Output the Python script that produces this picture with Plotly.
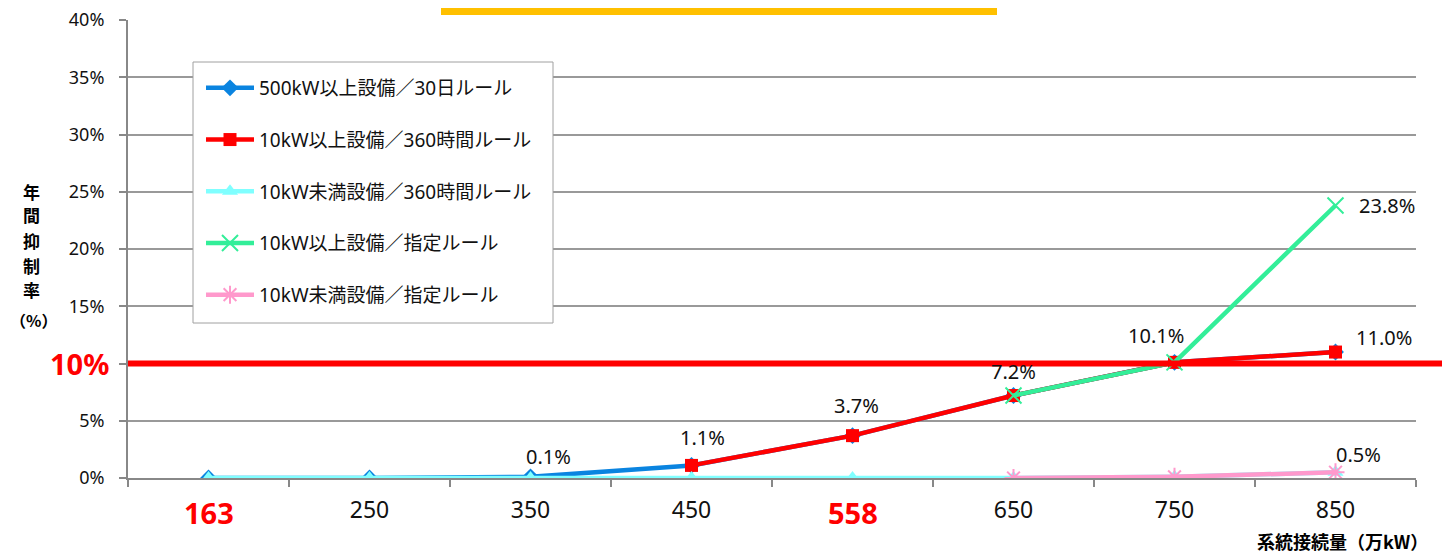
import plotly.graph_objects as go

categories = ["163", "250", "350", "450", "558", "650", "750", "850"]
s_500kw_30d = [0, 0, 0.1, 1.1, 3.7, 7.2, 10.1, 11.0]
s_10kw_360h = [None, None, None, 1.1, 3.7, 7.2, 10.1, 11.0]
s_u10kw_360h = [0, 0, 0, 0, 0, 0, 0.1, 0.5]
s_10kw_shitei = [None, None, None, None, None, 7.2, 10.1, 23.8]
s_u10kw_shitei = [None, None, None, None, None, 0, 0.1, 0.5]
names = ["500kW以上設備／30日ルール", "10kW以上設備／360時間ルール", "10kW未満設備／360時間ルール",
         "10kW以上設備／指定ルール", "10kW未満設備／指定ルール"]
colors = ["#0A84E0", "#FF0000", "#80FFFF", "#33EE99", "#FF99CC"]
symbols = ["diamond", "square", "triangle-up", "x-thin", "asterisk"]
highlight_cats = ["163", "558"]
target_rate = 10
y_ticks = [0, 5, 10, 15, 20, 25, 30, 35, 40]
y_title_parts = ["年", "間", "抑", "制", "率", "（%）"]

# data labels: (category, value, text, dx, dy_up)
labels = [("350", 0.1, "0.1%", 18, 20), ("450", 1.1, "1.1%", 11, 28), ("558", 3.7, "3.7%", 4, 30),
          ("650", 7.2, "7.2%", 0, 24), ("750", 10.1, "10.1%", -19, 27), ("850", 11.0, "11.0%", 48, 15),
          ("850", 23.8, "23.8%", 51, 0), ("850", 0.5, "0.5%", 23, 18)]

FONT = "Noto Sans, Noto Sans CJK JP, sans-serif"
CJK = "Noto Sans CJK JP, sans-serif"
x = list(range(len(categories)))
series = [s_500kw_30d, s_10kw_360h, s_u10kw_360h, s_10kw_shitei, s_u10kw_shitei]
msizes = [13, 13, 14, 16, 15]

# plot-area geometry in page pixels (used for paper-coordinate placement)
PX0, PX1, PY0, PY1 = 128, 1416, 20, 478
def px(xp):
    return (xp - PX0) / (PX1 - PX0)
def py(yp):
    return (PY1 - yp) / (PY1 - PY0)

fig = go.Figure()
for i, (s, n, c, sym) in enumerate(zip(series, names, colors, symbols)):
    thin = sym in ("x-thin", "asterisk")
    fig.add_trace(go.Scatter(
        x=x, y=s, name=n, mode="lines+markers", legendgroup=str(i),
        line=dict(color=c, width=4.5),
        marker=dict(symbol=sym, size=msizes[i], color=c, line=dict(color=c, width=2 if thin else 0)),
        connectgaps=False,
    ))

for cat, v, t, dx, dy in labels:
    fig.add_annotation(x=categories.index(cat), y=v, text=t, showarrow=False,
                       xshift=dx, yshift=dy, font=dict(size=20, color="#111111", family=FONT))

# 10% threshold line
fig.add_shape(type="line", xref="paper", yref="y", x0=0, x1=px(1443), y0=target_rate, y1=target_rate,
              line=dict(color="#FF0000", width=6), layer="above")
fig.add_annotation(xref="paper", yref="y", x=0, y=target_rate, xanchor="right", yanchor="middle",
                   text="<b>10%</b>", showarrow=False, xshift=-17,
                   font=dict(size=29, color="#FF0000", family=FONT))

# highlighted x labels
for cat in highlight_cats:
    fig.add_annotation(x=categories.index(cat), yref="paper", y=py(512), xanchor="center", yanchor="middle",
                       text="<b>" + cat + "</b>", showarrow=False,
                       font=dict(size=29, color="#FF0000", family=FONT))

# y-axis title (stacked vertical characters)
title_y = [191, 214, 240, 265, 290, 320]
title_x = [31, 31, 31, 31, 31, 33]
title_size = [17, 17, 17, 17, 17, 16]
for part, xp, yp, fs in zip(y_title_parts, title_x, title_y, title_size):
    fig.add_annotation(xref="paper", yref="paper", x=px(xp), y=py(yp), xanchor="center", yanchor="middle",
                       text="<b>" + part + "</b>", showarrow=False, borderpad=0,
                       font=dict(size=fs, color="#000000", family=CJK))
# x-axis title
fig.add_annotation(xref="paper", yref="paper", x=px(1430), y=py(541), xanchor="right", yanchor="middle",
                   text="<b>系統接続量（万kW）</b>", showarrow=False,
                   font=dict(size=18, color="#000000", family=CJK))

# right border, yellow bar, legend box
fig.add_shape(type="line", xref="paper", yref="paper", x0=px(1443), x1=px(1443), y0=-0.2, y1=1.03,
              line=dict(color="#888888", width=2))
fig.add_shape(type="rect", xref="paper", yref="paper", x0=px(441), x1=px(997), y0=py(15), y1=py(7),
              fillcolor="#FFC000", line=dict(width=0))
fig.add_shape(type="rect", xref="paper", yref="paper", x0=px(193), x1=px(553), y0=py(323), y1=py(62),
              fillcolor="white", line=dict(color="#A0A0A0", width=1), layer="above")

ytext = ["" if v == target_rate else f"{v}%" for v in y_ticks]
xtext = ["" if c in highlight_cats else c for c in categories]

fig.update_layout(
    width=1442, height=551,
    margin=dict(l=120, r=34, t=12, b=81, autoexpand=False),
    paper_bgcolor="white", plot_bgcolor="white",
    font=dict(family=FONT, color="#111111"),
    showlegend=True,
    legend=dict(x=px(201), y=py(69), xanchor="left", yanchor="top",
                borderwidth=0, bgcolor="rgba(0,0,0,0)",
                font=dict(size=19, color="#111111", family=FONT),
                traceorder="grouped", tracegroupgap=24, itemwidth=48),
    xaxis=dict(range=[-0.5, 7.5], tickvals=x, ticktext=xtext, ticks="",
               tickfont=dict(size=23, color="#111111"), ticklabelstandoff=10,
               showgrid=False, showline=True, linecolor="#888888", linewidth=2, zeroline=False,
               minor=dict(tick0=0.5, dtick=1, ticks="outside", ticklen=7, tickcolor="#888888", tickwidth=2)),
    yaxis=dict(range=[0, 40.001], tickvals=y_ticks, ticktext=ytext, ticks="outside", ticklen=7,
               tickcolor="#888888", tickwidth=2, ticklabelstandoff=11, ticklabeloverflow="allow",
               tickfont=dict(size=18, color="#111111"), showgrid=True, gridcolor="#999999", gridwidth=1.5,
               showline=True, linecolor="#888888", linewidth=2, zeroline=False),
)

fig.write_html("out.html")
